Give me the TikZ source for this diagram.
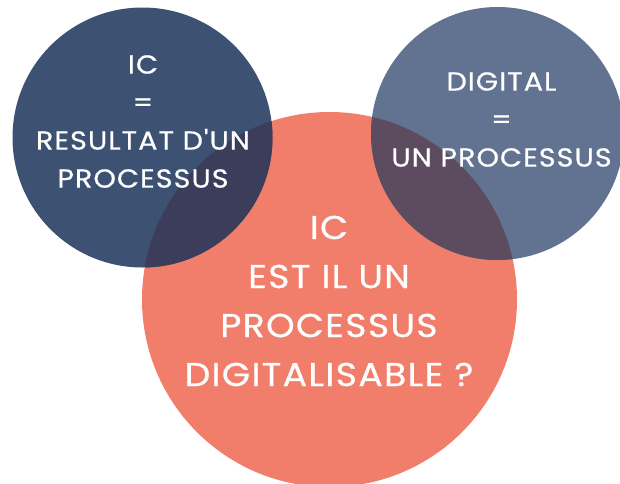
\documentclass[tikz,border=0pt]{standalone}
\usepackage{fontspec}
\setmainfont{Poppins}[Ligatures=TeXOff,LetterSpace=4,FakeStretch=1.1,FakeBold=0.6]
\definecolor{navy}{HTML}{3D5272}
\definecolor{slate}{HTML}{627391}
\definecolor{salmon}{HTML}{F07E6B}
\definecolor{ovleft}{HTML}{3C3D5B}
\definecolor{ovright}{HTML}{5D4B60}
\tikzset{
  circtext/.style={text=white, align=center, inner sep=0pt},
  smalltext/.style={circtext, font=\fontsize{26}{38}\selectfont},
  bigtext/.style={circtext, font=\fontsize{33}{49}\selectfont},
}
\begin{document}
\begin{tikzpicture}[x=1pt,y=-1pt]
\useasboundingbox (0,0) rectangle (620,483);
\clip (0,0) rectangle (620,483);
\coordinate (cl) at (142.5,137.5);
\coordinate (cr) at (497.5,133.5);
\coordinate (cb) at (329.5,299.5);
\fill[salmon] (cb) circle[radius=187.5];
\fill[navy] (cl) circle[radius=130];
\fill[slate] (cr) circle[radius=126.5];
\begin{scope}
  \clip (cb) circle[radius=187.5];
  \fill[ovleft] (cl) circle[radius=130];
  \fill[ovright] (cr) circle[radius=126.5];
\end{scope}
\node[smalltext] (tl) at (143,121.5) {IC\\=\\RESULTAT D'UN\\PROCESSUS};
\node[smalltext] (tr) at (501.5,119.5) {DIGITAL\\=\\UN PROCESSUS};
\node[bigtext] (tb) at (329,301) {IC\\EST IL UN\\PROCESSUS\\DIGITALISABLE ?};
\end{tikzpicture}
\end{document}
